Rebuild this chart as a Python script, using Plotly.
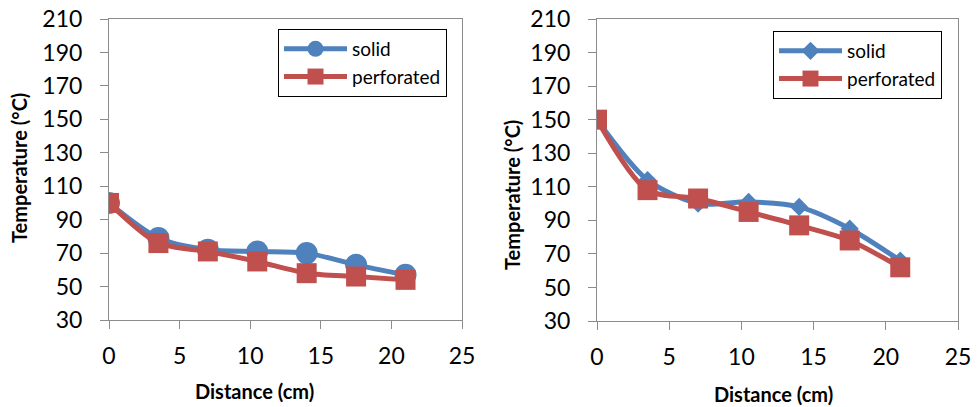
import plotly.graph_objects as go

# ---- data ----
distance = [0, 3.5, 7, 10.5, 14, 17.5, 21]
left_solid = [100, 79, 72, 71, 70, 63, 57]
left_perforated = [100, 76, 71, 65, 58, 56, 54]
right_solid = [150, 114, 100, 101, 98, 85, 66]
right_perforated = [150, 108, 103, 95, 87, 78, 62]
x_ticks = [0, 5, 10, 15, 20, 25]
y_ticks = [30, 50, 70, 90, 110, 130, 150, 170, 190, 210]

BLUE = "#4F81BD"
RED = "#C0504D"
FONT = "Lato"
W, H = 977, 407

fig = go.Figure()

def add(x, y, name, color, symbol, size, xa, ya, legend):
    fig.add_trace(go.Scatter(
        x=x, y=y, name=name, mode="lines+markers",
        line=dict(color=color, width=5, shape="spline", smoothing=0.8),
        marker=dict(color=color, symbol=symbol, size=size),
        xaxis=xa, yaxis=ya, legend=legend,
    ))

add(distance, left_solid, "solid", BLUE, "circle", 22, "x", "y", "legend")
add(distance, left_perforated, "perforated", RED, "square", 20, "x", "y", "legend")
add(distance, right_solid, "solid", BLUE, "diamond", 14, "x2", "y2", "legend2")
add(distance, right_perforated, "perforated", RED, "square", 20, "x2", "y2", "legend2")

def px_x(p):
    return p / W

def px_y(p):
    return 1 - p / H

axis_common = dict(
    showgrid=False, zeroline=False, showline=True, linecolor="#8C8C8C",
    linewidth=1, mirror=True, ticks="outside", ticklen=8, tickcolor="#8C8C8C",
    tickfont=dict(family=FONT, size=23, color="#000000"),
)

legend_common = dict(
    xanchor="left", yanchor="top", bgcolor="white", bordercolor="#000000",
    borderwidth=1, font=dict(family=FONT, size=19, color="#000000"),
    tracegroupgap=0, itemwidth=63,
)

def title_ann(text, x, y, angle=0):
    return dict(text=text, x=px_x(x), y=px_y(y), xref="paper", yref="paper",
                xanchor="center", yanchor="middle", showarrow=False, textangle=angle,
                font=dict(family=FONT, size=20, color="#000000"))

fig.update_layout(
    width=W, height=H,
    margin=dict(l=0, r=0, t=0, b=0, autoexpand=False),
    paper_bgcolor="white", plot_bgcolor="white",
    showlegend=True,
    xaxis=dict(domain=[px_x(109), px_x(462)], range=[0, 25], tickvals=x_ticks,
               anchor="y", ticklabelstandoff=7, **axis_common),
    yaxis=dict(domain=[px_y(320), px_y(19)], range=[30, 210], tickvals=y_ticks,
               anchor="x", ticklabelstandoff=13, **axis_common),
    xaxis2=dict(domain=[px_x(597), px_x(958)], range=[0, 25], tickvals=x_ticks,
                anchor="y2", ticklabelstandoff=7, **axis_common),
    yaxis2=dict(domain=[px_y(321), px_y(19)], range=[30, 210], tickvals=y_ticks,
                anchor="x2", ticklabelstandoff=13, **axis_common),
    legend=dict(x=px_x(278), y=px_y(29), **legend_common),
    legend2=dict(x=px_x(773), y=px_y(31), **legend_common),
    annotations=[
        title_ann("<b>Distance (cm)</b>", 254, 391),
        title_ann("<b>Temperature (°C)</b>", 19, 168, -90),
        title_ann("<b>Distance (cm)</b>", 773, 394),
        title_ann("<b>Temperature (°C)</b>", 512, 195, -90),
    ],
)

fig.write_html("out.html", config={"displayModeBar": False},
               post_script="document.body.style.margin='0';document.body.style.overflow='hidden';")
